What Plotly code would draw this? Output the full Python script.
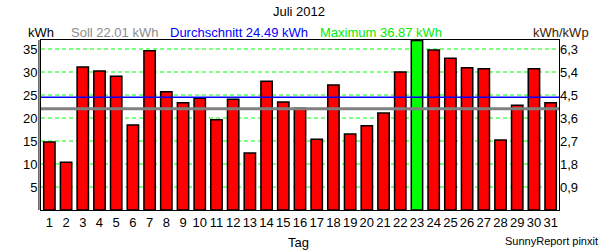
import plotly.graph_objects as go

days = list(range(1, 32))
values = [14.8, 10.4, 31.1, 30.2, 29.1, 18.5, 34.6, 25.7, 23.3, 24.3,
          19.6, 24.1, 12.4, 28.0, 23.5, 22.1, 15.4, 27.2, 16.5, 18.3,
          21.1, 30.0, 36.87, 34.8, 33.0, 30.9, 30.7, 15.2, 22.8, 30.7, 23.3]
soll = 22.01
avg = 24.49
maxv = 36.87
kwp = 35 / 6.3
left_ticks = [5, 10, 15, 20, 25, 30, 35]
right_ticks = [0.9, 1.8, 2.7, 3.6, 4.5, 5.4, 6.3]
title = "Juli 2012"

ymax = 36.96
colors = ["#00ff00" if v == max(values) else "#ff0000" for v in values]

fig = go.Figure()
fig.add_trace(go.Bar(x=days, y=values, marker=dict(color=colors, line=dict(color="black", width=1.5)),
                     width=0.68, showlegend=False))
fig.add_trace(go.Scatter(x=[0.5, 31.5], y=[soll, soll], mode="lines",
                         line=dict(color="#808080", width=3), showlegend=False))
fig.add_trace(go.Scatter(x=[0.5, 31.5], y=[avg, avg], mode="lines",
                         line=dict(color="#0000ff", width=1.5), showlegend=False))
fig.add_trace(go.Scatter(x=[1], y=[0], yaxis="y2", mode="markers",
                         marker=dict(opacity=0), showlegend=False, hoverinfo="skip"))

for t in left_ticks:
    fig.add_shape(type="line", xref="paper", yref="y", x0=0, x1=1, y0=t, y1=t,
                  line=dict(color="#00ff00", width=1, dash="4px,3px"), layer="below")
fig.add_shape(type="line", xref="paper", yref="paper", x0=-0.004, x1=-0.004, y0=0, y1=1,
              line=dict(color="black", width=1))

font = "Liberation Sans, Arial, sans-serif"
fig.update_layout(
    width=600, height=250,
    margin=dict(l=41, r=41, t=40, b=40),
    plot_bgcolor="white", paper_bgcolor="white",
    font=dict(family=font, size=13, color="black"),
    xaxis=dict(range=[0.5, 31.5], tickvals=days, ticktext=[str(d) for d in days],
               showgrid=False, zeroline=False, showline=True, linecolor="black", linewidth=1,
               mirror=True, ticks="", tickfont=dict(size=13, color="black")),
    yaxis=dict(range=[0, ymax], tickvals=left_ticks, ticktext=[str(t) for t in left_ticks],
               showgrid=False, zeroline=False, showline=True, linecolor="black", linewidth=1,
               mirror=True, ticks="", tickfont=dict(size=13, color="black")),
    yaxis2=dict(range=[0, ymax / kwp], overlaying="y", side="right",
                tickvals=right_ticks, ticktext=[f"{t:.1f}".replace(".", ",") for t in right_ticks],
                showgrid=False, zeroline=False, showline=False, ticks="",
                tickfont=dict(size=13, color="black")),
    bargap=0.3,
)

def ann(text, x, y, color="black", size=13, xanchor="center"):
    fig.add_annotation(text=text, x=x, y=y, xref="paper", yref="paper",
                       xanchor=xanchor, yanchor="middle", showarrow=False,
                       font=dict(family=font, size=size, color=color))

W, H, L, B = 518, 170, 41, 40
def px(xp):
    return (xp - L) / W
def py(yp):
    return (250 - B - yp) / H

ann(title, px(299), py(12))
ann("kWh", px(26), py(33), xanchor="left")
ann(f"Soll {soll:.2f} kWh", px(69), py(33), color="#8c8c8c", xanchor="left")
ann(f"Durchschnitt {avg:.2f} kWh", px(168), py(33), color="#0000ff", xanchor="left")
ann(f"Maximum {maxv:.2f} kWh", px(318), py(33), color="#00ee00", xanchor="left")
ann("kWh/kWp", px(531), py(33), color="#402000", xanchor="left")
ann("Tag", px(298), py(242))
ann("SunnyReport pinxit", px(600), py(241), size=11, xanchor="right")

fig.write_html("out.html")
